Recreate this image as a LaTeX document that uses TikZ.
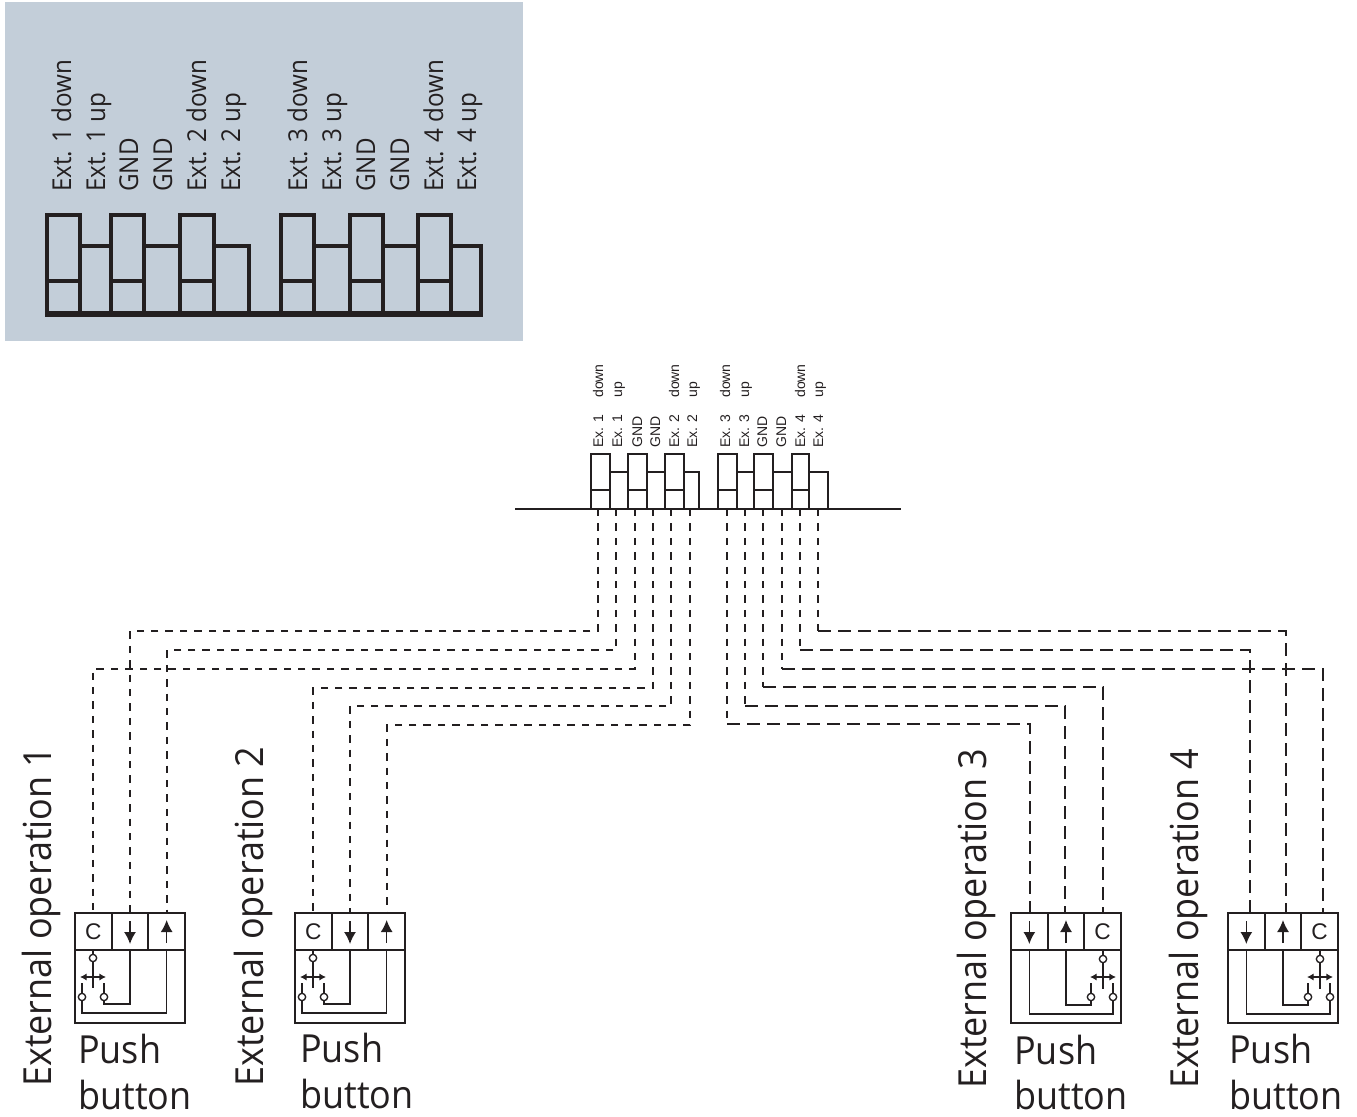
\documentclass[tikz,border=0pt]{standalone}
\usepackage{fontspec}
\setmainfont[FakeStretch=0.93]{Open Sans}
\newfontfamily\smallfont{Liberation Sans}
\usetikzlibrary{positioning}
\usetikzlibrary{arrows.meta}
\definecolor{panelblue}{HTML}{C3CED9}
\definecolor{ink}{HTML}{231F20}
\tikzset{
  panelline/.style={draw=ink,line width=2.5pt},
  blockline/.style={draw=ink,line width=1.4pt},
  wire/.style={draw=ink,line width=1.1pt,dash pattern=on 5.6pt off 5.2pt},
  wirewide/.style={draw=ink,line width=1.7pt,dash pattern=on 9.75pt off 5.25pt},
  cell/.style={draw=ink,line width=1.5pt,minimum width=27.5pt,minimum height=27.75pt,inner sep=0pt,outer sep=0pt,text=ink,font=\smallfont\fontsize{17pt}{17pt}\selectfont},
  lowerbox/.style={draw=ink,line width=1.5pt,minimum width=82.5pt,minimum height=55pt,inner sep=0pt,outer sep=0pt},
  contact/.style={circle,draw=ink,fill=white,line width=1pt,inner sep=0pt,minimum size=5.5pt,outer sep=0pt},
  thinline/.style={draw=ink,line width=1.1pt},
  cellarrow/.style={draw=ink,line width=1.1pt,-{Latex[length=9pt,width=9pt]}},
  swarrow/.style={draw=ink,line width=1.1pt,{Latex[length=5pt,width=5.5pt]}-{Latex[length=5pt,width=5.5pt]}},
  panellabel/.style={rotate=90,anchor=base west,inner sep=0pt,text=ink,font=\fontsize{19.5pt}{19.5pt}\selectfont},
  smalllabel/.style={rotate=90,anchor=base west,inner sep=0pt,text=ink,font=\smallfont\fontsize{10.5pt}{10.5pt}\selectfont},
  extlabel/.style={rotate=90,anchor=base west,inner sep=0pt,text=ink,font=\fontsize{29pt}{29pt}\selectfont},
  pushlabel/.style={anchor=base west,inner sep=0pt,text=ink,font=\fontsize{29pt}{29pt}\selectfont}
}

\begin{document}
\begin{tikzpicture}[x=0.75pt,y=-0.75pt]
    \useasboundingbox (0,0) rectangle (1357,1117);
    \fill[panelblue] (5,2) rectangle (523,341);

    % panel terminal block
    \foreach \a/\b/\c in {47/80/111,111/144/180,180/214/249,281/314/350,350/383/418,418/451/481}{
      \draw[panelline] (\a,314) -- (\a,215) -- (\b,215) -- (\b,314);
      \draw[panelline] (\a,281) -- (\b,281);
      \draw[panelline] (\b,246) -- (\c,246) -- (\c,314);
    }
    \draw[ink,line width=5pt] (45,314) -- (483,314);
    \foreach \x/\txt in {71/Ext. 1 down,105/Ext. 1 up,138/GND,172/GND,206/Ext. 2 down,240/Ext. 2 up,307/Ext. 3 down,341/Ext. 3 up,375/GND,409/GND,443/Ext. 4 down,476/Ext. 4 up}
      \node[panellabel] (pl\x) at (\x,192) {\txt};

    % small terminal block
    \foreach \a/\b/\c in {591/610/628,628/647/665,665/684/699,718/737/754,754/773/792,792/809/828}{
      \draw[blockline] (\a,509) -- (\a,454) -- (\b,454) -- (\b,509);
      \draw[blockline] (\a,490) -- (\b,490);
      \draw[blockline] (\b,472) -- (\c,472) -- (\c,509);
    }
    \draw[ink,line width=1.5pt] (515,509) -- (901,509);
    \foreach \x/\txt in {603/Ex. 1,622/Ex. 1,642/GND,660/GND,679/Ex. 2,697/Ex. 2,730/Ex. 3,749/Ex. 3,767/GND,786/GND,805/Ex. 4,823/Ex. 4}
      \node[smalllabel] (sl\x) at (\x,448) {\txt};
    \foreach \x/\txt in {603/down,622/up,679/down,697/up,730/down,749/up,805/down,823/up}
      \node[smalllabel] (sd\x) at (\x,398) {\txt};

    % terminals on the bus
    \foreach \n/\x in {1/598,2/616,3/635,4/653,5/671,6/690,7/727,8/745,9/763,10/782,11/800,12/818}
      \coordinate (t\n) at (\x,509);

    % push buttons, common on the left
    \foreach \n/\bx/\by in {1/75/913,2/295/913}{
      \node[cell,anchor=north west] (bc\n) at (\bx,\by) {C};
      \node[cell,right=0pt of bc\n] (bd\n) {};
      \node[cell,right=0pt of bd\n] (bu\n) {};
      \node[lowerbox,anchor=north west] (bs\n) at (bc\n.south west) {};
      \draw[cellarrow] (bd\n.north) ++(0,8) -- ++(0,23);
      \draw[cellarrow] (bu\n.north) ++(0,30) -- ++(0,-23);
      \node[contact] (kc\n) at (\bx+18,958) {};
      \node[contact] (ku\n) at (\bx+7,997) {};
      \node[contact] (kd\n) at (\bx+29,997) {};
      \draw[thinline] (bc\n.south -| kc\n) -- (kc\n);
      \draw[thinline] (kc\n) -- ++(0,30);
      \draw[swarrow] (\bx+5,977) -- (\bx+31,977);
      \draw[thinline] (ku\n) -- ++(0,-14);
      \draw[thinline] (kd\n) -- ++(0,-14);
      \draw[thinline] (bd\n.south) -- (bd\n.south |- 0,1004) -| (kd\n.south);
      \draw[thinline] (bu\n.south) -- (bu\n.south |- 0,1013) -| (ku\n.south);
    }

    % push buttons, common on the right
    \foreach \n/\bx/\by in {3/1011/913,4/1228/913}{
      \node[cell,anchor=north west] (bd\n) at (\bx,\by) {};
      \node[cell,right=0pt of bd\n] (bu\n) {};
      \node[cell,right=0pt of bu\n] (bc\n) {C};
      \node[lowerbox,anchor=north west] (bs\n) at (bd\n.south west) {};
      \draw[cellarrow] (bd\n.north) ++(0,8) -- ++(0,23);
      \draw[cellarrow] (bu\n.north) ++(0,30) -- ++(0,-23);
      \node[contact] (kc\n) at (\bx+92,959) {};
      \node[contact] (kd\n) at (\bx+80,997) {};
      \node[contact] (ku\n) at (\bx+102,997) {};
      \draw[thinline] (bc\n.south -| kc\n) -- (kc\n);
      \draw[thinline] (kc\n) -- ++(0,30);
      \draw[swarrow] (\bx+79,977) -- (\bx+105,977);
      \draw[thinline] (kd\n) -- ++(0,-14);
      \draw[thinline] (ku\n) -- ++(0,-14);
      \draw[thinline] (bu\n.south) -- (bu\n.south |- 0,1005) -| (kd\n.south);
      \draw[thinline] (bd\n.south) -- (bd\n.south |- 0,1014) -| (ku\n.south);
    }

    % wires to the left
    \foreach \from/\yy/\xx/\to in {t1/631/130/bd1,t2/650/167/bu1,t3/669/93/bc1,t4/688/313/bc2,t5/706/350/bd2,t6/725/387/bu2}
      \draw[wire] (\from) -- (\from |- 0,\yy) -- (\xx,\yy) -- (\xx,0 |- \to.north);

    % wires to the right
    \foreach \from/\yy/\xx/\to in {t7/724/1030/bd3,t8/706/1065/bu3,t9/687/1103/bc3,t10/669/1323/bc4,t11/650/1250/bd4,t12/631/1286/bu4}{
      \draw[wire] (\from) -- (\from |- 0,\yy);
      \draw[wirewide] (\from |- 0,\yy) -- (\xx,\yy) -- (\xx,0 |- \to.north);
    }

    \node[extlabel] (ext1) at (51,1087) {External operation 1};
    \node[extlabel] (ext2) at (263,1087) {External operation 2};
    \node[extlabel] (ext3) at (986,1089) {External operation 3};
    \node[extlabel] (ext4) at (1198,1089) {External operation 4};

    \foreach \n/\x/\ya/\yb in {1/78/1063/1109,2/300/1062/1108,3/1014/1064/1109,4/1229/1063/1109}{
      \node[pushlabel] (push\n) at (\x,\ya) {Push};
      \node[pushlabel] (button\n) at (\x,\yb) {button};
    }
  \end{tikzpicture}
\end{document}
